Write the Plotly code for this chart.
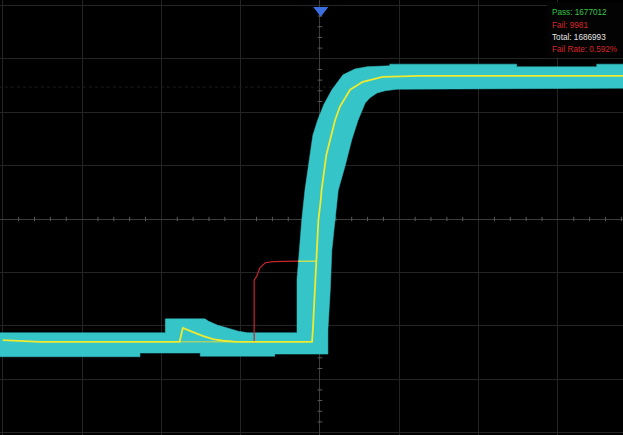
import plotly.graph_objects as go

# ---------------- data (screen divisions: x = time div, y = volt div) ----------------
# Pass/fail mask, upper/left edge (left -> right)
mask_top_x = [-4.05, -1.95, -1.95, -1.45, -1.41, -1.35, -1.29, -1.22, -1.13, -1.03, -0.91,
              -0.29, -0.29, -0.26, -0.23, -0.19, -0.14, -0.09, -0.03, 0.05, 0.15, 0.29,
              0.44, 0.59, 0.88, 0.88, 2.48, 2.48, 3.49, 3.49, 3.90]
mask_top_y = [-2.13, -2.13, -1.87, -1.87, -1.91, -1.95, -1.99, -2.02, -2.06, -2.10, -2.13,
              -2.13, -1.14, -0.58, -0.02, 0.54, 1.10, 1.57, 1.85, 2.15, 2.42, 2.70,
              2.81, 2.85, 2.87, 2.90, 2.90, 2.85, 2.85, 2.90, 2.90]
# Pass/fail mask, lower/right edge (right -> left)
mask_bot_x = [3.90, 0.97, 0.82, 0.72, 0.63, 0.57, 0.48, 0.40, 0.32, 0.23, 0.19, 0.15,
              0.13, 0.10, 0.10, -0.57, -0.57, -1.51, -1.51, -2.27, -2.27, -4.05]
mask_bot_y = [2.45, 2.43, 2.40, 2.36, 2.27, 2.17, 1.85, 1.48, 1.01, 0.54, -0.02, -0.58,
              -1.33, -2.08, -2.53, -2.53, -2.57, -2.57, -2.51, -2.51, -2.58, -2.58]

# Captured waveform (yellow)
wave_x = [-4.00, -3.53, -1.77, -1.73, -1.60, -1.48, -1.35, -1.22, -1.05, -0.10, -0.09,
          -0.05, -0.02, 0.01, 0.02, 0.08, 0.19, 0.25, 0.38, 0.54, 0.79, 1.26, 3.85]
wave_y = [-2.27, -2.30, -2.30, -2.04, -2.12, -2.19, -2.25, -2.28, -2.30, -2.30, -2.08,
          -0.79, -0.02, 0.36, 0.54, 1.20, 1.85, 2.10, 2.42, 2.57, 2.66, 2.68, 2.68]
# Persisted baseline under the glitch
base_x = [-1.77, -1.05]
base_y = [-2.30, -2.30]
# Failing segment (red) and its in-mask continuation
fail_x = [-0.83, -0.83, -0.80, -0.76, -0.69, -0.59, -0.28]
fail_y = [-2.32, -1.14, -1.08, -0.92, -0.82, -0.80, -0.79]
join_x = [-0.28, -0.05]
join_y = [-0.79, -0.79]

# Markers
trig_pos_x, trig_pos_y = [0.01], [3.91]
trig_lvl_x, trig_lvl_y = [3.86], [0.13]

# Statistics
stat_labels = ["Pass: 1677012", "Fail: 9981", "Total: 1686993", "Fail Rate: 0.592%"]
stat_colors = ["#36c44a", "#d82428", "#e6e6e6", "#d82428"]

# ---------------- figure ----------------
fig = go.Figure()

# centre-line ticks (every 1/5 division)
tx, ty = [], []
for i in range(-20, 21):
    v = i / 5
    if i % 5 == 0:
        continue
    ty += [v, v, None]
    tx += [-0.03, 0.03, None]
vx, vy = [], []
for i in range(-21, 21):
    v = i / 5
    if i % 5 == 0:
        continue
    vx += [v, v, None]
    vy += [-0.04, 0.04, None]
fig.add_trace(go.Scatter(x=tx + vx, y=ty + vy, mode="lines",
                         line=dict(color="#5a5a5a", width=1), hoverinfo="skip"))
# faint dotted cursor line
fig.add_trace(go.Scatter(x=[-4.05, 3.9], y=[2.47, 2.47], mode="lines",
                         line=dict(color="#1d1d1d", width=1, dash="dot"), hoverinfo="skip"))

fig.add_trace(go.Scatter(x=mask_top_x + mask_bot_x, y=mask_top_y + mask_bot_y,
                         mode="lines", fill="toself", fillcolor="#35c4c8",
                         line=dict(color="#35c4c8", width=0.5), hoverinfo="skip"))
fig.add_trace(go.Scatter(x=base_x, y=base_y, mode="lines",
                         line=dict(color="#d8d84a", width=1), hoverinfo="skip"))
fig.add_trace(go.Scatter(x=join_x, y=join_y, mode="lines",
                         line=dict(color="#e8e63a", width=1.2), hoverinfo="skip"))
fig.add_trace(go.Scatter(x=fail_x, y=fail_y, mode="lines",
                         line=dict(color="#c4262c", width=1.2), hoverinfo="skip"))
fig.add_trace(go.Scatter(x=wave_x, y=wave_y, mode="lines",
                         line=dict(color="#eeea30", width=1.8), hoverinfo="skip"))
fig.add_trace(go.Scatter(x=trig_pos_x, y=trig_pos_y, mode="markers", cliponaxis=False,
                         marker=dict(symbol="triangle-down", size=13, color="#3a6ee0",
                                     line=dict(width=0)), hoverinfo="skip"))
fig.add_trace(go.Scatter(x=trig_lvl_x, y=trig_lvl_y, mode="markers", cliponaxis=False,
                         marker=dict(symbol="triangle-left", size=11, color="#f2e420",
                                     line=dict(width=0)), hoverinfo="skip"))

# statistics box
fig.add_shape(type="rect", xref="paper", yref="paper", x0=547 / 623, x1=1.0,
              y0=1 - 57 / 435, y1=1 - 2 / 435, fillcolor="#030303",
              line=dict(width=0), layer="above")
for k, (lab, col) in enumerate(zip(stat_labels, stat_colors)):
    fig.add_annotation(xref="paper", yref="paper", x=550 / 623,
                       y=1 - (12.5 + 12.5 * k) / 435, text=lab, showarrow=False,
                       xanchor="left", yanchor="middle",
                       font=dict(family="Liberation Sans, Arial", size=8.2, color=col))

axis_common = dict(showgrid=True, gridcolor="#242424", gridwidth=1, dtick=1,
                   zeroline=True, zerolinecolor="#3c3c3c", zerolinewidth=1,
                   showticklabels=False, ticks="", showline=False, fixedrange=True)
fig.update_layout(
    width=623, height=435,
    margin=dict(l=0, r=0, t=0, b=0),
    paper_bgcolor="#000000", plot_bgcolor="#000000",
    showlegend=False,
    xaxis=dict(range=[-4.035, 3.821], tick0=0, **axis_common),
    yaxis=dict(range=[-4.045, 4.101], tick0=0, **axis_common),
)

fig.write_html("out.html", config={"displayModeBar": False},
               post_script="document.body.style.margin='0';"
                           "document.body.style.background='#000';"
                           "document.body.style.overflow='hidden';")
